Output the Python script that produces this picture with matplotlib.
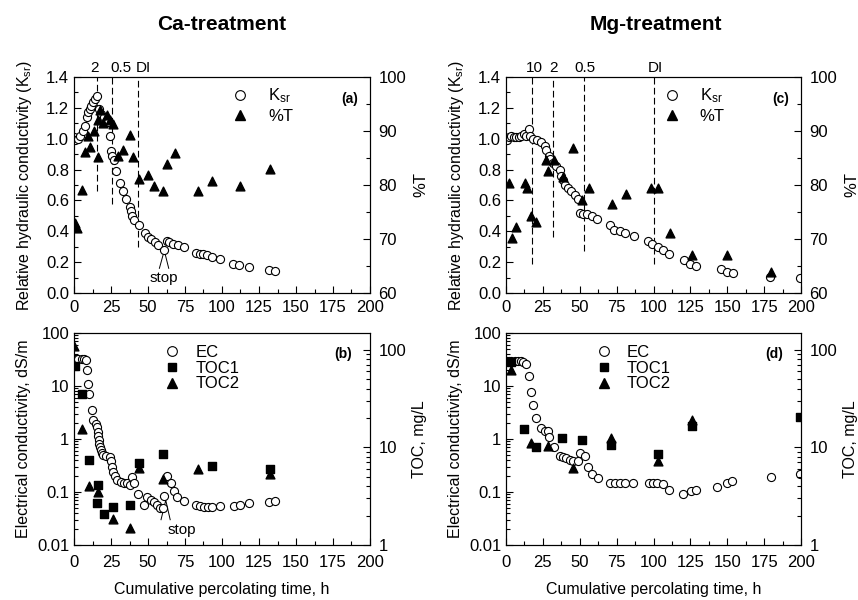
import matplotlib
matplotlib.use('Agg')
import matplotlib.pyplot as plt
from matplotlib.ticker import MultipleLocator, LogLocator, NullFormatter, FuncFormatter, FormatStrFormatter
from matplotlib.lines import Line2D

plt.rcParams['font.family'] = ['Liberation Sans', 'DejaVu Sans']
plt.rcParams['mathtext.default'] = 'regular'

# ---------------- Ca-treatment data ----------------
ca_k_time = [0, 1, 2.5, 4, 6, 7.5, 8.5, 9.5, 10.5, 11.5, 12.5, 14, 15.5, 17, 18.5, 20.5, 23,
             24.3, 24.8, 26, 27, 28.5, 31, 33, 35, 37.5, 38.5, 39.5, 40.5, 44, 48, 50, 52,
             54.5, 57, 61, 62.5, 64.5, 67, 70, 74.5, 82.5, 85, 87.5, 90, 93, 98.5, 107.5,
             111.5, 118.5, 131.5, 135.5]
ca_ksr = [1.01, 0.99, 1.0, 1.02, 1.05, 1.08, 1.14, 1.17, 1.19, 1.21, 1.24, 1.26, 1.28, 1.19,
          1.16, 1.14, 1.11, 1.02, 0.92, 0.89, 0.86, 0.79, 0.71, 0.66, 0.61, 0.56, 0.53, 0.50,
          0.47, 0.44, 0.39, 0.36, 0.35, 0.33, 0.31, 0.28, 0.34, 0.33, 0.32, 0.31, 0.30, 0.26,
          0.255, 0.25, 0.245, 0.235, 0.22, 0.19, 0.18, 0.17, 0.15, 0.14]
ca_t_time = [0.7, 2.3, 5.2, 7.4, 9.2, 10.8, 13.7, 16, 16.4, 17.6, 19.4, 22, 24.3, 26.6, 29.5,
             33.3, 37.8, 40.1, 44.1, 50.2, 54, 60.4, 63, 68.2, 84, 93, 112, 132.4]
ca_pct_t = [73.0, 72.0, 79.0, 86.2, 89.1, 87.0, 90.0, 85.1, 92.0, 93.9, 91.4, 93.0, 92.0, 91.3,
            85.4, 86.4, 89.3, 85.2, 81.2, 81.9, 79.8, 78.8, 83.9, 85.9, 78.8, 80.8, 79.8, 82.9]

ca_ec_time = [0.7, 3, 5.2, 6.8, 8.1, 8.6, 9.2, 9.9, 12.4, 13, 14.9, 15.8, 16.1, 16.5, 17, 17.2,
              17.6, 18, 18.7, 19.8, 21.6, 24.3, 25, 25.5, 26.6, 27.7, 29.3, 31.5, 33.8, 35.6,
              37.8, 39, 40.5, 43.5, 47.3, 49.5, 51.8, 54, 56.3, 58, 60.4, 61, 63, 65.3, 67.8,
              69.8, 74.3, 82.4, 85, 87.8, 90.3, 93.2, 98.6, 108, 112, 118.5, 132, 135.8]
ca_ec = [33, 33, 33, 33, 31, 20, 11, 7, 3.6, 2.3, 1.9, 1.65, 1.38, 1.15, 0.95, 0.8, 0.72, 0.62,
         0.55, 0.50, 0.47, 0.45, 0.38, 0.30, 0.24, 0.20, 0.17, 0.155, 0.15, 0.145, 0.137, 0.195,
         0.15, 0.093, 0.056, 0.08, 0.072, 0.066, 0.058, 0.05, 0.049, 0.085, 0.2, 0.145, 0.105,
         0.081, 0.068, 0.056, 0.054, 0.053, 0.053, 0.053, 0.054, 0.054, 0.058, 0.061, 0.064,
         0.067]
ca_toc1_time = [0.7, 5.2, 10.4, 15.8, 16.4, 20.3, 26.1, 37.8, 44.1, 60.4, 93.5, 132.4]
ca_toc1 = [68, 35, 7.4, 2.7, 4.1, 2.06, 2.47, 2.55, 6.9, 8.5, 6.5, 6.0]
ca_toc2_time = [0, 5.2, 10.4, 16.4, 26.6, 37.8, 44.1, 60.4, 84, 132.4]
ca_toc2 = [110, 15.4, 4.06, 3.52, 1.83, 1.48, 6.2, 4.7, 5.97, 5.35]

ca_sol_time = [15.8, 25.5, 43.5]
ca_sol_bottom = [0.66, 0.58, 0.30]
ca_sol_labels = ['2', '0.5', 'DI']
ca_sol_label_x = [13.7, 31.5, 47]

# ---------------- Mg-treatment data ----------------
mg_k_time = [0.7, 1.8, 3.6, 5.2, 7, 8.8, 10.4, 12.2, 13.8, 15.6, 16.5, 18.3, 21, 24, 26.3,
             27.4, 29, 30.1, 31.9, 34.2, 36.5, 37.6, 38.7, 39.9, 42.1, 44.4, 46.6, 48.9, 50.5,
             52.5, 55, 58, 62, 70.5, 73.5, 77, 81, 86.5, 96, 99, 103, 106.5, 110.5, 120.5, 125,
             128.5, 146, 149.5, 154, 179, 199]
mg_ksr = [0.99, 1.01, 1.02, 1.01, 1.01, 1.01, 1.02, 1.03, 1.02, 1.06, 1.02, 1.0, 0.99, 0.98,
          0.95, 0.93, 0.89, 0.87, 0.84, 0.82, 0.80, 0.76, 0.73, 0.70, 0.68, 0.66, 0.635, 0.61,
          0.52, 0.515, 0.51, 0.50, 0.48, 0.44, 0.41, 0.40, 0.39, 0.37, 0.34, 0.315, 0.30, 0.28,
          0.255, 0.215, 0.19, 0.175, 0.155, 0.135, 0.13, 0.105, 0.095]
mg_t_time = [2, 4.3, 7, 12.7, 14.3, 16.8, 20.6, 26.9, 28.5, 32.6, 38.7, 45.5, 51.2, 56.2, 71.6,
             81.3, 98.5, 103, 111, 126, 150, 179.8]
mg_pct_t = [80.4, 70.1, 72.3, 80.4, 79.4, 74.3, 73.2, 84.6, 82.6, 84.6, 81.5, 86.8, 77.3, 79.4,
            76.4, 78.3, 79.4, 79.4, 71.2, 67.0, 67.0, 63.9]

mg_ec_time = [0.7, 2, 3.6, 5.9, 8.2, 10, 11.5, 13.8, 15.4, 17.2, 18.3, 20.6, 24, 26.3, 28.5,
              29.2, 32.6, 36.5, 38.7, 41, 43.3, 45.5, 48.9, 50, 53.4, 55.7, 58, 62.5, 70.4,
              73.8, 77.2, 80.6, 86.3, 97.1, 99.9, 102.6, 106.2, 110.5, 119.8, 125.5, 128.9,
              143, 149.5, 153.5, 179.5, 199]
mg_ec = [29, 29, 29, 29, 29, 29, 28, 25.6, 15.5, 7.8, 4.35, 2.5, 1.58, 1.44, 1.44, 1.1, 0.72,
         0.47, 0.45, 0.43, 0.40, 0.39, 0.38, 0.55, 0.47, 0.30, 0.22, 0.18, 0.15, 0.15, 0.15,
         0.15, 0.15, 0.15, 0.15, 0.15, 0.14, 0.11, 0.093, 0.105, 0.11, 0.126, 0.15, 0.16, 0.19,
         0.22]
mg_toc1_time = [3.6, 12.5, 20.6, 38.3, 51.2, 70.9, 102.8, 125.9, 199]
mg_toc1 = [75, 15.5, 10, 12.5, 12, 10.5, 8.5, 16.5, 20.5]
mg_toc2_time = [3.6, 16.8, 28.5, 45.5, 70.9, 102.8, 125.9]
mg_toc2 = [62, 11, 10.2, 6.2, 12.5, 7.3, 19]

mg_sol_time = [17.9, 31.9, 53, 100.5]
mg_sol_bottom = [0.19, 0.365, 0.27, 0.19]
mg_sol_labels = ['10', '2', '0.5', 'DI']
mg_sol_label_x = [19.5, 32, 53.5, 101]

FS = 12
W, H = 858, 600


def frac(left, top, right, bottom):
    return [left / W, 1 - bottom / H, (right - left) / W, (bottom - top) / H]


def style(ax):
    ax.tick_params(which='both', direction='in', labelsize=FS)
    ax.tick_params(which='major', length=5, width=0.8)
    ax.tick_params(which='minor', length=3, width=0.8)
    ax.tick_params(axis='x', pad=5)
    for s in ax.spines.values():
        s.set_linewidth(0.8)


def top_panel(ax, k_t, k, t_t, pct, sol_t, sol_b, sol_lab, sol_lx, tag, stop=None):
    ax.scatter(k_t, k, s=34, facecolors='white', edgecolors='black', linewidths=0.8, zorder=3)
    ax.set_xlim(0, 200)
    ax.set_ylim(0, 1.4)
    ax.xaxis.set_major_locator(MultipleLocator(25))
    ax.xaxis.set_minor_locator(MultipleLocator(12.5))
    ax.yaxis.set_major_locator(MultipleLocator(0.2))
    ax.yaxis.set_minor_locator(MultipleLocator(0.1))
    ax.yaxis.set_major_formatter(FormatStrFormatter('%.1f'))
    ax.set_ylabel('Relative hydraulic conductivity (K$_{sr}$)', fontsize=11.5, labelpad=9)
    style(ax)
    ax.vlines(sol_t, sol_b, 1.4, colors='black', linestyles=(0, (6, 3)), linewidth=0.8)
    for x, lab in zip(sol_lx, sol_lab):
        ax.text(x, 1.415, lab, ha='center', va='bottom', fontsize=11, clip_on=False)
    if stop is not None:
        px, py, x1, x2, yb, tx, ty = stop
        ax.plot([x1, px, x2], [yb, py, yb], color='black', lw=0.7)
        ax.text(tx, ty, 'stop', ha='center', va='center', fontsize=11)

    ax2 = ax.twinx()
    ax2.scatter(t_t, pct, s=40, marker='^', color='black', zorder=3)
    ax2.set_ylim(60, 100)
    ax2.yaxis.set_major_locator(MultipleLocator(10))
    ax2.yaxis.set_minor_locator(MultipleLocator(5))
    ax2.set_ylabel('%T', fontsize=12, labelpad=5)
    style(ax2)
    ax2.tick_params(axis='y', pad=6)

    handles = [Line2D([], [], ls='none', marker='o', ms=7, mfc='white', mec='black', mew=0.8),
               Line2D([], [], ls='none', marker='^', ms=7, color='black')]
    ax2.legend(handles, ['K$_{sr}$', '%T'], loc='upper left', bbox_to_anchor=(0.465, 1.025),
               frameon=False, fontsize=FS, handletextpad=0.9, labelspacing=0.22,
               handlelength=1.6)
    ax2.text(0.93, 0.9, tag, transform=ax2.transAxes, ha='center', va='center',
             fontsize=10, fontweight='bold')
    return ax2


def bottom_panel(ax, ec_t, ec, t1_t, t1, t2_t, t2, tag, stop=None):
    ax.scatter(ec_t, ec, s=34, facecolors='white', edgecolors='black', linewidths=0.8, zorder=3)
    ax.set_yscale('log')
    ax.set_xlim(0, 200)
    ax.set_ylim(0.01, 100)
    ax.xaxis.set_major_locator(MultipleLocator(25))
    ax.xaxis.set_minor_locator(MultipleLocator(12.5))
    ax.yaxis.set_major_locator(LogLocator(base=10))
    ax.yaxis.set_minor_locator(LogLocator(base=10, subs=range(2, 10)))
    ax.yaxis.set_minor_formatter(NullFormatter())
    ax.yaxis.set_major_formatter(FuncFormatter(lambda v, p: '%g' % v))
    ax.set_ylabel('Electrical conductivity, dS/m', fontsize=11.5, labelpad=4)
    ax.set_xlabel('Cumulative percolating time, h', fontsize=11.5, labelpad=9)
    style(ax)
    ax.tick_params(axis='x', pad=7)
    if stop is not None:
        px, py, x1, x2, yb, tx, ty = stop
        ax.plot([x1, px, x2], [yb, py, yb], color='black', lw=0.7)
        ax.text(tx, ty, 'stop', ha='center', va='center', fontsize=11)

    ax2 = ax.twinx()
    ax2.scatter(t1_t, t1, s=30, marker='s', color='black', zorder=3)
    ax2.scatter(t2_t, t2, s=40, marker='^', color='black', zorder=3)
    ax2.set_yscale('log')
    ax2.set_ylim(1, 148)
    ax2.yaxis.set_major_locator(LogLocator(base=10))
    ax2.yaxis.set_minor_locator(LogLocator(base=10, subs=range(2, 10)))
    ax2.yaxis.set_minor_formatter(NullFormatter())
    ax2.yaxis.set_major_formatter(FuncFormatter(lambda v, p: '%g' % v))
    ax2.set_ylabel('TOC, mg/L', fontsize=11.5, labelpad=4)
    style(ax2)
    ax2.tick_params(axis='y', pad=6)

    handles = [Line2D([], [], ls='none', marker='o', ms=7, mfc='white', mec='black', mew=0.8),
               Line2D([], [], ls='none', marker='s', ms=6, color='black'),
               Line2D([], [], ls='none', marker='^', ms=7, color='black')]
    ax2.legend(handles, ['EC', 'TOC1', 'TOC2'], loc='upper left', bbox_to_anchor=(0.235, 1.015),
               frameon=False, fontsize=FS, handletextpad=0.6, labelspacing=0.05,
               handlelength=1.6)
    ax2.text(0.91, 0.9, tag, transform=ax2.transAxes, ha='center', va='center',
             fontsize=10, fontweight='bold')
    return ax2


fig = plt.figure(figsize=(8.58, 6.0), dpi=100)
ax_a = fig.add_axes(frac(74, 77, 370, 293))
ax_b = fig.add_axes(frac(74, 333, 370, 545))
ax_c = fig.add_axes(frac(506, 77, 801, 293))
ax_d = fig.add_axes(frac(506, 333, 801, 545))

top_panel(ax_a, ca_k_time, ca_ksr, ca_t_time, ca_pct_t, ca_sol_time, ca_sol_bottom,
          ca_sol_labels, ca_sol_label_x, '(a)',
          stop=(61, 0.275, 57.7, 64.0, 0.16, 60.8, 0.095))
top_panel(ax_c, mg_k_time, mg_ksr, mg_t_time, mg_pct_t, mg_sol_time, mg_sol_bottom,
          mg_sol_labels, mg_sol_label_x, '(c)')
bottom_panel(ax_b, ca_ec_time, ca_ec, ca_toc1_time, ca_toc1, ca_toc2_time, ca_toc2, '(b)',
             stop=(62, 0.07, 58.8, 65.0, 0.03, 72.7, 0.019))
bottom_panel(ax_d, mg_ec_time, mg_ec, mg_toc1_time, mg_toc1, mg_toc2_time, mg_toc2, '(d)')

fig.text(222 / W, 1 - 25 / H, 'Ca-treatment', ha='center', va='center', fontsize=15,
         fontweight='bold')
fig.text(656 / W, 1 - 25 / H, 'Mg-treatment', ha='center', va='center', fontsize=15,
         fontweight='bold')

fig.savefig('out.png', dpi=100)
